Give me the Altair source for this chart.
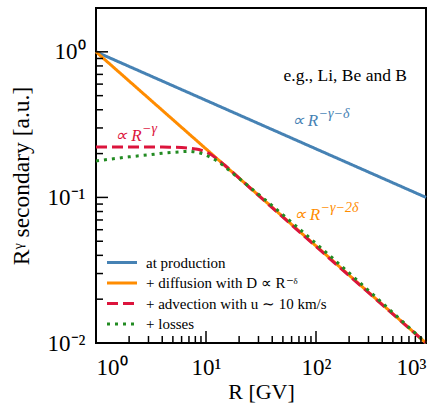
import altair as alt
import pandas as pd

# ---- data ----
R_prod = [1, 1000]
v_prod = [1.0, 0.1]
R_diff = [1, 1000]
v_diff = [1.0, 0.01]
R_adv = [1, 2, 3, 4, 5, 6, 7, 8, 9, 10, 11, 12, 13, 15, 20, 1000]
v_adv = [0.222, 0.222, 0.222, 0.222, 0.221, 0.220, 0.218, 0.215, 0.211, 0.205,
         0.198, 0.189, 0.180, 0.165, 0.1357, 0.01]
R_loss = [1, 1.5, 2, 3, 4, 5, 6, 7, 8, 9, 10, 12, 14, 17, 20, 1000]
v_loss = [0.178, 0.185, 0.190, 0.196, 0.201, 0.204, 0.206, 0.207, 0.205, 0.201,
          0.195, 0.182, 0.168, 0.149, 0.135, 0.01]

series = ["at production", "+ diffusion with D \u221d R\u207b\u1d5f",
          "+ advection with u \u223c 10 km/s", "+ losses"]
colors = ["#4682b4", "#ff8c00", "#dc143c", "#228b22"]
dashes = [[1, 0], [1, 0], [11, 5], [3, 5]]

xtick_major = [1, 10, 100, 1000]
xtick_minor = [2, 3, 4, 5, 6, 7, 8, 9, 20, 30, 40, 50, 60, 70, 80, 90,
               200, 300, 400, 500, 600, 700, 800, 900]
ytick_major = [0.01, 0.1, 1]
ytick_minor = [0.02, 0.03, 0.04, 0.05, 0.06, 0.07, 0.08, 0.09,
               0.2, 0.3, 0.4, 0.5, 0.6, 0.7, 0.8, 0.9]

ann_base_R = [1.49, 60, 62.5]
ann_base_v = [0.243, 0.309, 0.0705]
ann_exp = ["\u2212\u03b3", "\u2212\u03b3\u2212\u03b4", "\u2212\u03b3\u22122\u03b4"]
ann_col = ["#dc143c", "#4682b4", "#ff8c00"]
note_R = [50.7]
note_v = [0.631]
note_txt = ["e.g., Li, Be and B"]

W, H = 330, 335
FONT = "Liberation Serif"

xs = alt.Scale(type="log", domain=[1, 1000], nice=False)
ys = alt.Scale(type="log", domain=[0.01, 2], nice=False)
cs = alt.Scale(domain=series, range=colors)
ds = alt.Scale(domain=series, range=dashes)

lab = ("'10' + (round(log(datum.value)/LN10) < 0 ? '\u207b' : '') + "
       "['\u2070','\u00b9','\u00b2','\u00b3'][abs(round(log(datum.value)/LN10))]")

xaxis = alt.Axis(values=xtick_major, labelExpr=lab, ticks=False, tickSize=0,
                 domain=False, grid=False, labelFontSize=23, labelPadding=13,
                 labelColor="black", title="R [GV]", titleFontSize=22,
                 titleFontWeight="normal", titleColor="black", titlePadding=2)
yaxis = alt.Axis(values=ytick_major, labelExpr=lab, ticks=False, tickSize=0,
                 domain=False, grid=False, labelFontSize=23, labelPadding=11,
                 labelColor="black", title="R\u1d5e secondary [a.u.]",
                 titleFontSize=23.5, titleFontWeight="normal", titleColor="black",
                 titlePadding=14)

leg = alt.Legend(orient="none", legendX=17, legendY=245.5, title=None,
                 symbolType="M-2,0H2", symbolSize=225, symbolStrokeWidth=3,
                 labelFontSize=15, labelFont=FONT, labelColor="black",
                 labelLimit=400, rowPadding=3.5, labelOffset=15, padding=0)

X = lambda f: alt.X(f, scale=xs, axis=xaxis)
Y = lambda f: alt.Y(f, scale=ys, axis=yaxis)


def line_layer(Rs, vs, name):
    df = pd.DataFrame({"R": Rs, "v": vs, "series": name})
    return alt.Chart(df).mark_line(strokeWidth=3, interpolate="monotone").encode(
        x=X("R:Q"), y=Y("v:Q"),
        color=alt.Color("series:N", scale=cs, legend=leg),
        strokeDash=alt.StrokeDash("series:N", scale=ds, legend=leg),
    )


lines = [
    line_layer(R_prod, v_prod, series[0]),
    line_layer(R_diff, v_diff, series[1]),
    line_layer(R_adv, v_adv, series[2]),
    line_layer(R_loss, v_loss, series[3]),
]


def xticks(vals, length):
    return alt.Chart(pd.DataFrame({"t": vals})).mark_rule(
        color="black", strokeWidth=1.5).encode(
        x=X("t:Q"), y=alt.value(H), y2=alt.value(H - length))


def yticks(vals, length):
    return alt.Chart(pd.DataFrame({"t": vals})).mark_rule(
        color="black", strokeWidth=1.5).encode(
        y=Y("t:Q"), x=alt.value(0), x2=alt.value(length))


ann_df = pd.DataFrame({"R": ann_base_R, "v": ann_base_v, "e": ann_exp, "c": ann_col})
ann_base = alt.Chart(ann_df).mark_text(
    text="\u221d R", font=FONT, fontSize=17, fontStyle="italic", align="left",
    baseline="alphabetic").encode(
    x=X("R:Q"), y=Y("v:Q"), color=alt.Color("c:N", scale=None))
ann_sup = alt.Chart(ann_df).mark_text(
    font=FONT, fontSize=14, fontStyle="italic", align="left",
    baseline="alphabetic", dx=27, dy=-8).encode(
    x=X("R:Q"), y=Y("v:Q"), text="e:N", color=alt.Color("c:N", scale=None))
note = alt.Chart(pd.DataFrame({"R": note_R, "v": note_v, "t": note_txt})).mark_text(
    font=FONT, fontSize=17.5, align="left", baseline="alphabetic", color="black").encode(
    x=X("R:Q"), y=Y("v:Q"), text="t:N")

chart = alt.layer(
    *lines,
    xticks(xtick_major, 12), xticks(xtick_minor, 7),
    yticks(ytick_major, 12), yticks(ytick_minor, 7),
    ann_base, ann_sup, note,
).properties(
    width=W, height=H,
    autosize=alt.AutoSizeParams(type="none"),
    padding={"left": 96, "top": 8, "right": 16, "bottom": 61},
    background="white",
).configure(font=FONT).configure_view(stroke="black", strokeWidth=2)

chart.save("out.html", embed_options={"renderer": "svg", "actions": False})
